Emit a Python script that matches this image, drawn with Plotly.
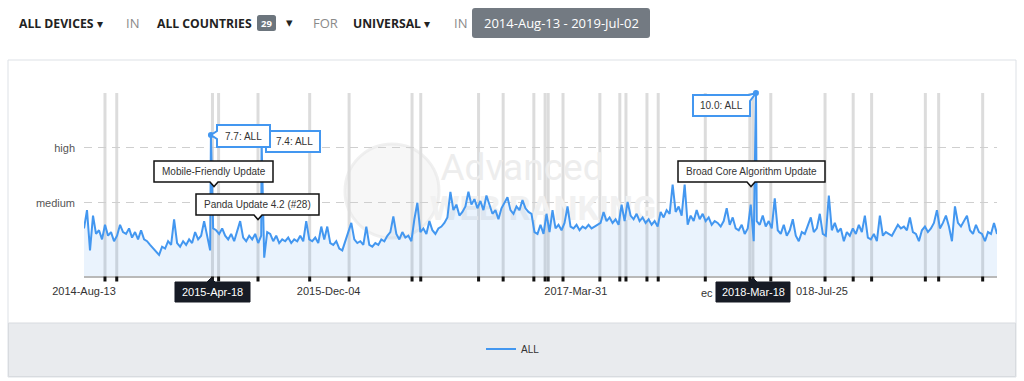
import plotly.graph_objects as go
import pandas as pd

# ---------------- data ----------------
START = "2014-08-13"
END = "2019-07-02"

# visibility values sampled evenly from START to END
values = [
    2.6, 3.6, 1.4, 3.3, 2.3, 2.5, 2.0, 2.8, 2.2, 2.4,
    1.9, 2.2, 2.8, 2.4, 2.3, 2.6, 2.1, 2.4, 2.0, 2.5,
    2.0, 1.9, 1.7, 1.5, 1.3, 1.15, 1.6, 1.5, 1.9, 1.7,
    3.1, 1.8, 1.6, 1.9, 1.7, 2.0, 1.8, 2.4, 2.0, 2.2,
    3.0, 2.1, 1.4, 2.6, 2.5, 2.3, 2.6, 2.2, 2.0, 2.3,
    1.9, 2.4, 3.0, 2.1, 1.9, 2.2, 2.0, 2.3, 1.8, 2.2,
    1.0, 2.4, 2.3, 1.9, 2.2, 1.8, 2.0, 1.9, 2.1, 1.8,
    2.0, 1.9, 2.2, 1.9, 3.0, 2.0, 1.9, 2.1, 1.8, 2.7,
    2.0, 2.7, 1.8, 1.7, 1.9, 1.5, 1.4, 1.9, 2.3, 2.9,
    2.0, 1.8, 1.9, 1.7, 2.7, 1.7, 1.6, 1.8, 1.7, 2.0,
    1.9, 2.2, 2.4, 3.25, 2.3, 2.0, 2.4, 2.1, 2.2, 1.9,
    3.1, 4.0, 2.4, 2.6, 2.3, 3.0, 2.5, 2.3, 2.6, 2.7,
    2.9, 3.2, 4.6, 3.6, 3.9, 3.3, 3.5, 3.8, 4.6, 3.9,
    4.2, 3.7, 4.1, 3.6, 4.4, 3.9, 3.4, 3.6, 3.1, 3.7,
    4.0, 4.3, 3.6, 3.4, 3.8, 3.6, 4.15, 3.7, 3.5, 3.4,
    2.4, 2.3, 2.8, 2.3, 3.4, 2.4, 3.6, 2.6, 2.8, 2.5,
    2.9, 3.8, 2.7, 2.6, 2.8, 2.5, 2.7, 2.6, 2.8, 2.6,
    2.7, 2.8, 2.9, 3.5, 3.0, 3.2, 2.9, 3.1, 2.8, 3.9,
    3.0, 4.05, 3.3, 3.1, 3.4, 3.0, 3.2, 2.9, 3.1, 2.8,
    3.0, 2.7, 3.5, 3.2, 3.6, 3.4, 5.0, 3.5, 3.8, 3.3,
    5.0, 2.8, 3.3, 3.0, 3.6, 3.1, 3.4, 3.0, 3.2, 2.8,
    3.0, 2.9, 2.7, 3.0, 3.7, 2.8, 3.2, 2.6, 2.5, 2.8,
    2.3, 2.6, 3.9, 1.9, 3.0, 2.8, 3.3, 2.7, 3.0, 2.6,
    4.25, 2.5, 2.3, 2.8, 2.2, 2.5, 3.1, 2.2, 1.9, 2.4,
    2.3, 2.7, 3.2, 2.4, 2.6, 3.4, 2.3, 2.2, 4.4, 2.5,
    2.9, 2.4, 2.6, 1.9, 2.4, 2.2, 2.6, 2.3, 2.8, 2.4,
    3.3, 2.1, 2.0, 2.3, 1.9, 3.3, 2.2, 2.4, 2.3, 2.2,
    2.5, 2.8, 2.6, 2.7, 2.5, 3.2, 2.4, 2.3, 1.9, 2.5,
    2.7, 2.4, 2.6, 2.9, 3.6, 2.6, 2.9, 3.3, 2.7, 1.9,
    3.8, 2.9, 2.7, 3.0, 3.3, 2.5, 2.3, 2.8, 2.4, 2.3,
    1.9, 2.4, 2.3, 2.9, 2.3,
]

spike_dates = ["2015-04-18", "2015-07-26", "2018-03-18"]
spike_values = [7.7, 7.4, 10.0]
spike_labels = ["7.7: ALL", "7.4: ALL", "10.0: ALL"]
marker_dates = ["2015-04-18", "2018-03-18"]
marker_values = [7.7, 10.0]

event_dates = [
    "2014-09-23", "2014-10-16", "2015-04-21", "2015-05-03", "2015-07-19",
    "2015-10-28", "2016-01-13", "2016-05-15", "2016-06-01", "2016-09-22",
    "2016-11-09", "2017-01-08", "2017-01-30", "2017-02-05", "2017-03-06",
    "2017-05-17", "2017-06-25", "2017-07-07", "2017-08-17", "2017-09-08",
    "2017-12-09", "2018-03-06", "2018-03-12", "2018-04-16", "2018-07-31",
    "2018-09-24", "2018-10-30", "2019-02-12", "2019-03-10", "2019-06-04",
]
event_names = ["Mobile-Friendly Update", "Panda Update 4.2 (#28)", "Broad Core Algorithm Update"]
tooltip_dates = ["2015-Apr-18", "2018-Mar-18"]

xtick_dates = ["2014-08-13", "2015-12-04", "2017-03-31", "2018-07-25"]
xtick_text = ["2014-Aug-13", "2015-Dec-04", "2017-Mar-31", "018-Jul-25"]
ytick_vals = [4, 7]
ytick_text = ["medium", "high"]
series_name = "ALL"

# ---------------- helpers (pixel -> paper) ----------------
X0, X1, Y0, Y1 = 84, 997, 93, 276


def px(x):
    return (x - X0) / (X1 - X0)


def py(y):
    return (Y1 - y) / (Y1 - Y0)


def poly(points):
    return "M " + " L ".join(f"{px(x):.5f},{py(y):.5f}" for x, y in points) + " Z"


def rrect(x0, y0, x1, y1, r):
    def p(x, y):
        return f"{px(x):.5f},{py(y):.5f}"
    return (f"M {p(x0 + r, y0)} L {p(x1 - r, y0)} Q {p(x1, y0)} {p(x1, y0 + r)} "
            f"L {p(x1, y1 - r)} Q {p(x1, y1)} {p(x1 - r, y1)} L {p(x0 + r, y1)} "
            f"Q {p(x0, y1)} {p(x0, y1 - r)} L {p(x0, y0 + r)} Q {p(x0, y0)} {p(x0 + r, y0)} Z")


t_start, t_end = pd.Timestamp(START), pd.Timestamp(END)


def px_date(x):
    return t_start + (x - X0) / (X1 - X0) * (t_end - t_start)


# ---------------- series ----------------
base = pd.Series(values, index=pd.date_range(START, END, periods=len(values)))
spikes = pd.Series(spike_values, index=pd.to_datetime(spike_dates))
series = pd.concat([base, spikes]).sort_index()

BLUE = "#4397f0"
FONT = "Liberation Sans, Arial, sans-serif"
TOPFONT = "Open Sans, sans-serif"

fig = go.Figure()

# watermark (drawn below data)
fig.add_trace(go.Scatter(
    x=[px_date(522), px_date(543)], y=[py(171) * 10, py(211) * 10],
    mode="text", text=["Advanced", "<b>WEB RANKING</b>"],
    textfont=dict(family="Liberation Sans Narrow, Roboto, sans-serif", size=[37, 34],
                  color=["#ededed", "#f1f1f1"]),
    hoverinfo="skip", showlegend=False, cliponaxis=False))

fig.add_trace(go.Scatter(
    x=series.index, y=series.values, mode="lines", fill="tozeroy",
    fillcolor="rgba(66,150,240,0.11)", line=dict(width=0),
    hoverinfo="skip", showlegend=False))

fig.add_trace(go.Scatter(
    x=series.index, y=series.values, mode="lines", name=series_name,
    line=dict(color=BLUE, width=2), showlegend=True))

fig.add_trace(go.Scatter(
    x=pd.to_datetime(marker_dates), y=marker_values, mode="markers",
    marker=dict(color=BLUE, size=6), showlegend=False, cliponaxis=False,
    hoverinfo="skip"))

# ---------------- shapes ----------------
shapes = []
# outer panel and legend band
shapes.append(dict(type="rect", xref="paper", yref="paper", x0=px(8), x1=px(1016),
                   y0=py(60), y1=py(377), fillcolor="white",
                   line=dict(color="#dde1e6", width=1), layer="below"))
shapes.append(dict(type="rect", xref="paper", yref="paper", x0=px(8.5), x1=px(1015.5),
                   y0=py(323), y1=py(376.5), fillcolor="#e9ebee",
                   line=dict(color="#d8dbdf", width=1), layer="below"))
# globe of the watermark
shapes.append(dict(type="circle", xref="paper", yref="paper", x0=px(345), x1=px(439),
                   y0=py(144), y1=py(238), fillcolor="rgba(238,238,238,0.45)",
                   line=dict(color="rgba(230,230,230,0.6)", width=3), layer="below"))

# event bars and tick markers
for d in event_dates:
    shapes.append(dict(type="line", xref="x", yref="paper", x0=d, x1=d, y0=0, y1=1,
                       line=dict(color="#dcdcdc", width=3), layer="below"))
    shapes.append(dict(type="line", xref="x", yref="paper", x0=d, x1=d,
                       y0=py(281.5), y1=py(276.5),
                       line=dict(color="#111111", width=3), layer="above"))

# event callouts (black)
ev_boxes = [
    ((154, 161, 273, 182), 214),
    ((196, 194, 319, 215), 258),
    ((678, 161, 825, 182), 751),
]
for (x0, y0, x1, y1), tip in ev_boxes:
    pts = [(x0, y0), (x1, y0), (x1, y1), (tip + 4, y1), (tip, y1 + 4.5), (tip - 4, y1), (x0, y1)]
    shapes.append(dict(type="path", xref="paper", yref="paper", path=poly(pts),
                       fillcolor="white", line=dict(color="#111111", width=1.5), layer="above"))

# value callouts (blue)
val_boxes = [
    [(266, 131), (320, 131), (320, 152), (266, 152), (266, 145), (262, 141), (266, 137)],
    [(217, 125), (270, 125), (270, 147), (217, 147), (217, 139), (211, 135), (217, 131)],
    [(693, 95), (749, 95), (756, 93), (750, 101), (750, 116), (693, 116)],
]
for pts in val_boxes:
    shapes.append(dict(type="path", xref="paper", yref="paper", path=poly(pts),
                       fillcolor="white", line=dict(color=BLUE, width=2), layer="above"))

# bottom date tooltips
tt_boxes = [((175, 282, 250, 302), 211), ((716, 282, 790, 302), 753)]
for (x0, y0, x1, y1), tip in tt_boxes:
    pts = [(x0, y0), (tip - 4, y0), (tip, y0 - 4), (tip + 4, y0), (x1, y0), (x1, y1), (x0, y1)]
    shapes.append(dict(type="path", xref="paper", yref="paper", path=poly(pts),
                       fillcolor="#171b25", line=dict(color="#171b25", width=1), layer="above"))

# top bar: badge and date button
shapes.append(dict(type="path", xref="paper", yref="paper", path=rrect(257, 15, 276, 31, 2.5),
                   fillcolor="#6c757d", line=dict(width=0), layer="above"))
shapes.append(dict(type="path", xref="paper", yref="paper", path=rrect(472, 8, 650, 38, 3),
                   fillcolor="#737a82", line=dict(width=0), layer="above"))

# ---------------- annotations ----------------
ann = []


def text(x, y, s, size=10, color="#333333", family=FONT, xanchor="center"):
    ann.append(dict(x=px(x), y=py(y), xref="paper", yref="paper", text=s, showarrow=False,
                    xanchor=xanchor, yanchor="middle",
                    font=dict(family=family, size=size, color=color)))


# top bar
text(17, 23, "<b>ALL DEVICES</b> ▾", 12.2, "#222222", TOPFONT, "left")
text(124, 23, "IN", 13, "#8a8a8a", TOPFONT, "left")
text(155, 23, "<b>ALL COUNTRIES</b>", 12.2, "#222222", TOPFONT, "left")
text(266.5, 23, "<b>29</b>", 9.5, "white", TOPFONT)
text(284, 22, "▾", 12.5, "#222222", TOPFONT, "left")
text(311, 23, "FOR", 13, "#8a8a8a", TOPFONT, "left")
text(351, 23, "<b>UNIVERSAL</b> ▾", 12.2, "#222222", TOPFONT, "left")
text(452, 23, "IN", 13, "#8a8a8a", TOPFONT, "left")
text(561, 23, f"{START[:4]}-Aug-13 - {END[:4]}-Jul-02", 13, "white", TOPFONT)

# callout texts
text(213.5, 171.5, event_names[0], 10, "#333333")
text(257.5, 204.5, event_names[1], 10, "#333333")
text(751.5, 171.5, event_names[2], 10, "#333333")
text(294, 141.5, spike_labels[1], 10, "#333333")
text(243, 136, spike_labels[0], 10, "#333333")
text(721.5, 105.5, spike_labels[2], 10, "#333333")

# tooltips
text(212.5, 292, tooltip_dates[0], 11, "white")
text(753, 292, tooltip_dates[1], 11, "white")
# fragment of a hidden axis label
text(715, 293, "ec", 11, "#333333", FONT, "right")

# ---------------- layout ----------------
fig.update_layout(
    width=1024, height=381,
    margin=dict(l=X0, r=1024 - X1, t=Y0, b=381 - Y1),
    paper_bgcolor="white", plot_bgcolor="rgba(0,0,0,0)",
    shapes=shapes, annotations=ann,
    hovermode=False,
    showlegend=True,
    legend=dict(orientation="h", x=px(513), xanchor="center", y=py(349), yanchor="middle",
                bgcolor="rgba(0,0,0,0)", font=dict(family=FONT, size=10, color="#333333"),
                itemwidth=30),
    xaxis=dict(range=[START, END], type="date", showgrid=False, zeroline=False,
               showline=True, linecolor="#b9b9b9", linewidth=2, ticks="",
               tickvals=xtick_dates, ticktext=xtick_text,
               tickfont=dict(family=FONT, size=11, color="#333333"),
               ticklabelstandoff=4),
    yaxis=dict(range=[0, 10], showgrid=True, gridcolor="#cfcfcf", griddash="8px,6px",
               gridwidth=1, zeroline=False, showline=False, ticks="",
               tickvals=ytick_vals, ticktext=ytick_text,
               tickfont=dict(family=FONT, size=11, color="#555555"),
               ticklabelstandoff=8),
)

fig.write_html("out.html", config={"displayModeBar": False, "responsive": False},
               post_script="document.body.style.margin='0';document.body.style.overflow='hidden';")
